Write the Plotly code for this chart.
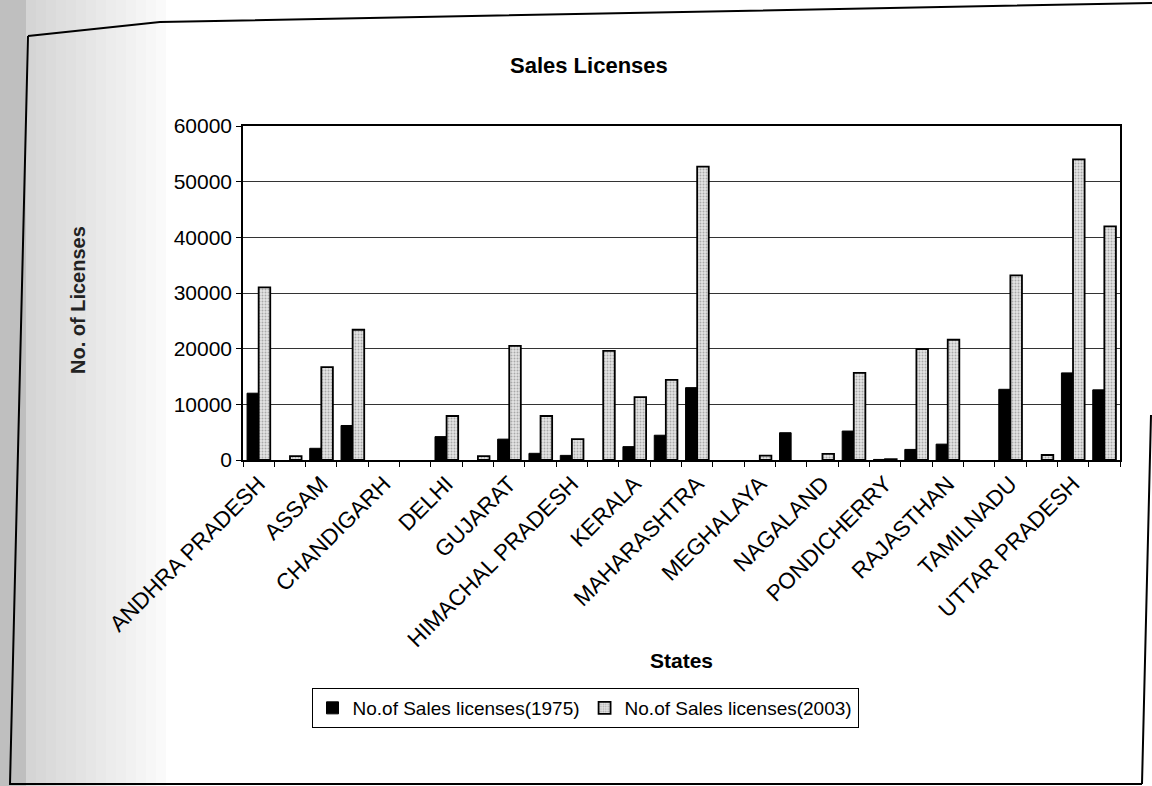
import plotly.graph_objects as go

states = ["ANDHRA PRADESH", "ARUNACHAL PRADESH", "ASSAM", "BIHAR", "CHANDIGARH",
          "DAMAN & DIU", "DELHI", "GOA", "GUJARAT", "HARYANA", "HIMACHAL PRADESH",
          "KARNATAKA", "KERALA", "MADHYA PRADESH", "MAHARASHTRA", "MANIPUR",
          "MEGHALAYA", "MIZORAM", "NAGALAND", "ORISSA", "PONDICHERRY", "PUNJAB",
          "RAJASTHAN", "SIKKIM", "TAMILNADU", "TRIPURA", "UTTAR PRADESH", "WEST BENGAL"]

# None = no value plotted for that state
lic_1975 = [12000, None, 2100, 6200, None, None, 4200, None, 3750, 1200, 830, None, 2400, 4450,
            13000, None, None, 4900, None, 5200, 100, 1900, 2850, None, 12700, None, 15650, 12600]
lic_2003 = [31000, 700, 16700, 23400, None, None, 7900, 700, 20500, 7900, 3750, 19600, 11300, 14400,
            52700, None, 800, None, 1100, 15650, 150, 19900, 21600, None, 33150, 900, 54000, 41960]

tick_labels = ["ANDHRA PRADESH", "ASSAM", "CHANDIGARH", "DELHI", "GUJARAT",
               "HIMACHAL PRADESH", "KERALA", "MAHARASHTRA", "MEGHALAYA", "NAGALAND",
               "PONDICHERRY", "RAJASTHAN", "TAMILNADU", "UTTAR PRADESH"]

y_ticks = [0, 10000, 20000, 30000, 40000, 50000, 60000]

FONT = "Arial, Liberation Sans, sans-serif"

x_pos = list(range(len(states)))
tick_pos = [states.index(s) for s in tick_labels]

fig = go.Figure()
fig.add_trace(go.Bar(
    x=x_pos, y=lic_1975, name="No.of Sales licenses(1975)",
    customdata=states, hovertemplate="%{customdata}: %{y}<extra></extra>",
    marker=dict(color="black", line=dict(color="black", width=1))))
fig.add_trace(go.Bar(
    x=x_pos, y=lic_2003, name="No.of Sales licenses(2003)",
    customdata=states, hovertemplate="%{customdata}: %{y}<extra></extra>",
    marker=dict(color="#d9d9d9",
                pattern=dict(shape=".", fgcolor="#6e6e6e", bgcolor="#e4e4e4",
                             size=3, solidity=0.35),
                line=dict(color="black", width=1.8))))

# Geometry (pixels) of plot area
L, R, T, B = 243, 1120, 126, 460
W, H = 1152, 786
pw, ph = R - L, B - T


def px(xp):
    return (xp - L) / pw


def py(yp):
    return (B - yp) / ph


shapes = []
# scanned-page shading on the left
bands = [(0, 26, 0.55)]
x0 = 26
for i in range(14):
    x1 = x0 + 10
    bands.append((x0, x1, 0.34 * (1 - i / 14) + 0.02))
    x0 = x1
for x0, x1, op in bands:
    shapes.append(dict(type="rect", xref="paper", yref="paper",
                       x0=px(x0), x1=px(x1), y0=py(H), y1=py(0),
                       fillcolor="#8a8a8a", opacity=op, line=dict(width=0),
                       layer="below"))
# page border
border = (f"M {px(28)} {py(36)} L {px(160)} {py(22)} L {px(1152)} {py(3)} "
          f"M {px(28)} {py(36)} L {px(10)} {py(784)} L {px(1142)} {py(784)} "
          f"M {px(1142)} {py(784)} L {px(1151)} {py(415)}")
shapes.append(dict(type="path", xref="paper", yref="paper", path=border,
                   line=dict(color="black", width=2)))

fig.update_layout(
    width=W, height=H,
    margin=dict(l=L, r=W - R, t=T, b=H - B),
    paper_bgcolor="white", plot_bgcolor="white",
    barmode="group", bargap=0.26, bargroupgap=0.0,
    showlegend=True,
    legend=dict(orientation="h", x=px(585), xanchor="center", y=py(708), yanchor="middle",
                bordercolor="black", borderwidth=1, bgcolor="white",
                font=dict(family=FONT, size=19, color="black"),
                itemwidth=30, tracegroupgap=0),
    font=dict(family=FONT, color="black"),
    shapes=shapes,
    annotations=[
        dict(text="<b>Sales Licenses</b>", xref="paper", yref="paper",
             x=px(589), y=py(66), xanchor="center", yanchor="middle", showarrow=False,
             font=dict(family=FONT, size=22, color="black")),
        dict(text="<b>States</b>", xref="paper", yref="paper",
             x=px(681), y=py(660), xanchor="center", yanchor="middle", showarrow=False,
             font=dict(family=FONT, size=21, color="black")),
        dict(text="<b>No. of Licenses</b>", xref="paper", yref="paper",
             x=px(78), y=py(300), xanchor="center", yanchor="middle", showarrow=False,
             textangle=-90,
             font=dict(family=FONT, size=20, color="#222")),
    ],
)

fig.update_xaxes(
    range=[-0.5, len(states) - 0.5],
    tickmode="array", tickvals=tick_pos, ticktext=tick_labels,
    tickangle=-45, ticks="",
    tickfont=dict(family=FONT, size=22.5, color="black"),
    showgrid=False, zeroline=False,
    showline=True, linecolor="black", linewidth=1.5, mirror=True,
    minor=dict(ticks="outside", tick0=-0.5, dtick=1, ticklen=5,
               tickcolor="black", showgrid=False),
)
fig.update_yaxes(
    range=[0, 60000], tickmode="array", tickvals=y_ticks,
    ticktext=[str(v) for v in y_ticks],
    ticks="outside", ticklen=5, tickcolor="black",
    tickfont=dict(family=FONT, size=21, color="black"),
    showgrid=True, gridcolor="#333333", gridwidth=1,
    zeroline=False,
    showline=True, linecolor="black", linewidth=1.5, mirror=True,
)

fig.write_html("out.html")
